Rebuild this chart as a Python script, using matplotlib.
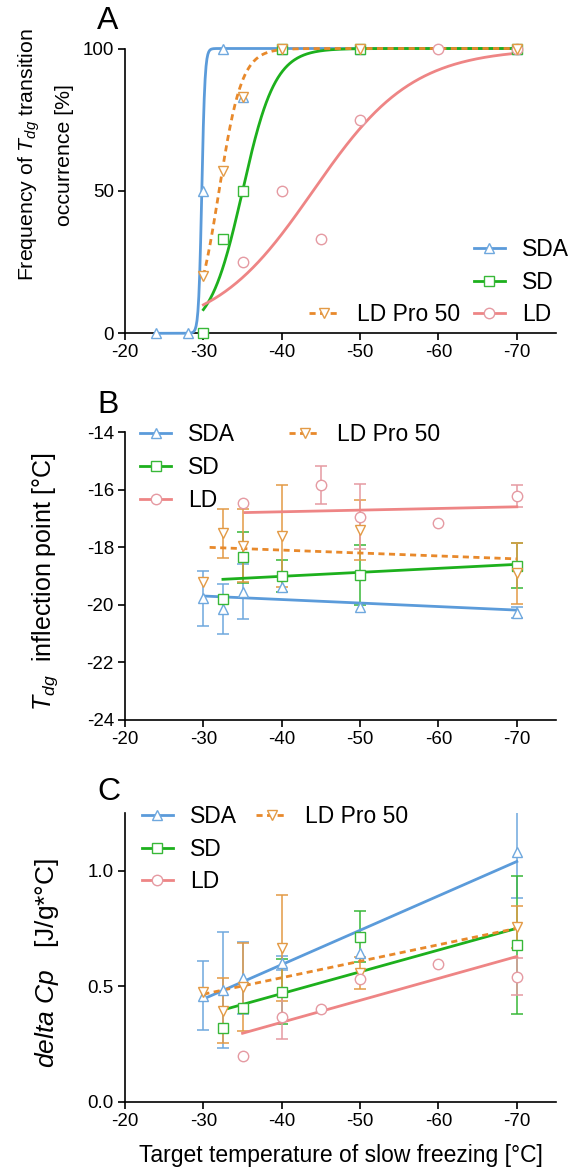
import numpy as np
import matplotlib
matplotlib.use("Agg")
import matplotlib.pyplot as plt
from matplotlib.lines import Line2D

plt.rcParams['font.family'] = ['Liberation Sans', 'DejaVu Sans']
plt.rcParams['mathtext.fontset'] = 'custom'
plt.rcParams['mathtext.rm'] = 'Liberation Sans'
plt.rcParams['mathtext.it'] = 'Liberation Sans:italic'

# ---------------- data ----------------
series = ["SDA", "SD", "LD Pro 50", "LD"]

# Panel A: frequency of Tdg transition occurrence [%]
a_sda_x = [-24, -28, -30, -32.5, -35, -40, -50, -70]
a_sda_y = [0, 0, 50, 100, 83, 100, 100, 100]
a_sd_x = [-30, -32.5, -35, -40, -50, -70]
a_sd_y = [0, 33, 50, 100, 100, 100]
a_pro_x = [-30, -32.5, -35, -40, -50, -70]
a_pro_y = [20, 57, 83, 100, 100, 100]
a_ld_x = [-35, -40, -45, -50, -60, -70]
a_ld_y = [25, 50, 33, 75, 100, 100]
# fitted sigmoid curves: (start temperature, temperature at 50 %, steepness)
a_fit_start = [-24, -30, -30, -30]
a_fit_mid = [-29.8, -35.0, -32.0, -44.0]
a_fit_slope = [5.0, 0.48, 0.69, 0.157]

# Panel B: Tdg inflection point [°C]
b_sda_x = [-30, -32.5, -35, -40, -50, -70]
b_sda_y = [-19.77, -20.15, -19.54, -19.37, -20.08, -20.27]
b_sda_e = [0.95, 0.86, 0.95, 0, 0, 0.2]
b_sd_x = [-32.5, -35, -40, -50, -70]
b_sd_y = [-19.79, -18.35, -18.99, -18.96, -18.64]
b_sd_e = [0, 0.9, 0.55, 1.05, 0.78]
b_pro_x = [-30, -32.5, -35, -40, -50, -70]
b_pro_y = [-19.19, -17.51, -17.95, -17.6, -17.4, -18.9]
b_pro_e = [0, 0.85, 1.27, 1.78, 1.03, 1.06]
b_ld_x = [-35, -45, -50, -60, -70]
b_ld_y = [-16.47, -15.83, -16.93, -17.16, -16.21]
b_ld_e = [0, 0.66, 1.12, 0, 0.38]
# linear fits (x0, y0, x1, y1)
b_fit_x0 = [-30, -32.5, -30.8, -35.3]
b_fit_y0 = [-19.69, -19.11, -18.0, -16.79]
b_fit_x1 = [-70, -70, -70, -70]
b_fit_y1 = [-20.18, -18.59, -18.40, -16.59]

# Panel C: delta Cp [J/g*°C]
c_sda_x = [-30, -32.5, -35, -40, -50, -70]
c_sda_y = [0.458, 0.483, 0.534, 0.599, 0.642, 1.082]
c_sda_e = [0.15, 0.25, 0.156, 0.03, 0, 0.2]
c_sd_x = [-32.5, -35, -40, -50, -70]
c_sd_y = [0.32, 0.404, 0.476, 0.714, 0.678]
c_sd_e = [0, 0, 0.14, 0.11, 0.3]
c_pro_x = [-30, -32.5, -35, -40, -50, -70]
c_pro_y = [0.476, 0.393, 0.495, 0.664, 0.558, 0.755]
c_pro_e = [0, 0.14, 0.19, 0.23, 0.07, 0.09]
c_ld_x = [-35, -40, -45, -50, -60, -70]
c_ld_y = [0.199, 0.365, 0.401, 0.53, 0.596, 0.541]
c_ld_e = [0, 0.095, 0, 0, 0, 0.08]
c_fit_x0 = [-30.4, -32.5, -30, -35]
c_fit_y0 = [0.45, 0.397, 0.465, 0.296]
c_fit_x1 = [-70, -70, -70, -70]
c_fit_y1 = [1.039, 0.75, 0.75, 0.628]

x_ticks = [-20, -30, -40, -50, -60, -70]

# ---------------- styles ----------------
line_col = ['#5B9BDA', '#1DB01D', '#E8892B', '#EE8585']
mark_col = ['#6FA8DE', '#38B838', '#E39A45', '#E59AA2']
markers = ['^', 's', 'v', 'o']
lstyle = ['-', '-', (0, (2.2, 1.6)), '-']
MS = 7.5
LW = 2.0
LEG_FS = 16.5

fig = plt.figure(figsize=(5.69, 11.70), dpi=100)
W, H = 569, 1170


def make_ax(top_px, bot_px):
    return fig.add_axes([125 / W, 1 - bot_px / H, 431 / W, (bot_px - top_px) / H])


def style_ax(ax):
    for s in ['top', 'right']:
        ax.spines[s].set_visible(False)
    for s in ['left', 'bottom']:
        ax.spines[s].set_linewidth(1.2)
    ax.tick_params(direction='out', length=5, width=1.2, labelsize=13.5, pad=3)
    ax.set_xlim(-20, -75)
    ax.set_xticks(x_ticks)
    ax.set_xticklabels([str(t) for t in x_ticks])


def legend_handles():
    return [Line2D([], [], color=line_col[i], linestyle=lstyle[i], lw=LW,
                   marker=markers[i], markersize=MS, markerfacecolor='white',
                   markeredgecolor=mark_col[i], markeredgewidth=1.0)
            for i in range(4)]


def blank():
    return Line2D([], [], alpha=0)


def draw_points(ax, xs, ys, i, errs=None):
    if errs is not None:
        ex = [x for x, e in zip(xs, errs) if e > 0]
        ey = [y for y, e in zip(ys, errs) if e > 0]
        ee = [e for e in errs if e > 0]
        if ex:
            ax.errorbar(ex, ey, yerr=ee, fmt='none', ecolor=mark_col[i],
                        elinewidth=1.1, capsize=4, capthick=1.1, zorder=2)
    ax.plot(xs, ys, linestyle='none', marker=markers[i], markersize=MS,
            markerfacecolor='white', markeredgecolor=mark_col[i],
            markeredgewidth=1.0, zorder=4, clip_on=False)


leg_kw = dict(frameon=False, fontsize=LEG_FS, handlelength=1.35, handletextpad=0.75,
              labelspacing=0.42, borderpad=0.0, borderaxespad=0.0)

# ---------------- Panel A ----------------
axA = make_ax(48.5, 333.3)
style_ax(axA)
axA.set_ylim(0, 100)
axA.set_yticks([0, 50, 100])
axA.set_yticklabels(['0', '50', '100'])
A_pts = [(a_sda_x, a_sda_y), (a_sd_x, a_sd_y), (a_pro_x, a_pro_y), (a_ld_x, a_ld_y)]
for i in range(4):
    t = np.linspace(a_fit_start[i], -70, 400)
    yv = 100.0 / (1.0 + np.exp((t - a_fit_mid[i]) * a_fit_slope[i]))
    axA.plot(t, yv, color=line_col[i], linestyle=lstyle[i], lw=LW, zorder=3, clip_on=False)
for i in [0, 1, 3, 2]:
    draw_points(axA, A_pts[i][0], A_pts[i][1], i)
axA.set_ylabel('Frequency of $\\mathit{T_{dg}}$ transition\noccurrence [%]', fontsize=15.3,
               linespacing=1.9)
axA.yaxis.set_label_coords(-0.118, 0.626)
h = legend_handles()
axA.legend([blank(), blank(), h[2], h[0], h[1], h[3]], ['', '', 'LD Pro 50', 'SDA', 'SD', 'LD'],
           ncol=2, loc='lower right', bbox_to_anchor=(1.03, 0.025), columnspacing=0.6, **leg_kw)

# ---------------- Panel B ----------------
axB = make_ax(432.3, 720.0)
style_ax(axB)
axB.set_ylim(-24, -14)
axB.set_yticks([-24, -22, -20, -18, -16, -14])
axB.set_yticklabels(['-24', '-22', '-20', '-18', '-16', '-14'])
B_pts = [(b_sda_x, b_sda_y, b_sda_e), (b_sd_x, b_sd_y, b_sd_e),
         (b_pro_x, b_pro_y, b_pro_e), (b_ld_x, b_ld_y, b_ld_e)]
for i in range(4):
    axB.plot([b_fit_x0[i], b_fit_x1[i]], [b_fit_y0[i], b_fit_y1[i]], color=line_col[i],
             linestyle=lstyle[i], lw=LW, zorder=3)
    draw_points(axB, *B_pts[i][:2], i, B_pts[i][2])
axB.set_ylabel('$\\mathit{T_{dg}}$  inflection point [°C]', fontsize=18)
axB.yaxis.set_label_coords(-0.15, 0.48)
h = legend_handles()
axB.legend([h[0], h[1], h[3], h[2], blank(), blank()], ['SDA', 'SD', 'LD', 'LD Pro 50', '', ''],
           ncol=2, loc='upper left', bbox_to_anchor=(0.035, 1.031), columnspacing=2.35, **leg_kw)

# ---------------- Panel C ----------------
axC = make_ax(812.7, 1101.7)
style_ax(axC)
axC.set_ylim(0, 1.25)
axC.set_yticks([0.0, 0.5, 1.0])
axC.set_yticklabels(['0.0', '0.5', '1.0'])
C_pts = [(c_sda_x, c_sda_y, c_sda_e), (c_sd_x, c_sd_y, c_sd_e),
         (c_pro_x, c_pro_y, c_pro_e), (c_ld_x, c_ld_y, c_ld_e)]
for i in range(4):
    axC.plot([c_fit_x0[i], c_fit_x1[i]], [c_fit_y0[i], c_fit_y1[i]], color=line_col[i],
             linestyle=lstyle[i], lw=LW, zorder=3)
    draw_points(axC, *C_pts[i][:2], i, C_pts[i][2])
axC.set_ylabel('$\\mathit{delta\\ Cp}$   [J/g*°C]', fontsize=19)
axC.yaxis.set_label_coords(-0.148, 0.48)
axC.set_xlabel('Target temperature of slow freezing [°C]', fontsize=16.5, labelpad=10)
h = legend_handles()
axC.legend([h[0], h[1], h[3], h[2], blank(), blank()], ['SDA', 'SD', 'LD', 'LD Pro 50', '', ''],
           ncol=2, loc='upper left', bbox_to_anchor=(0.039, 1.026), columnspacing=0.85, **leg_kw)

# panel letters
for lab, ypx in [('A', 21), ('B', 405), ('C', 792)]:
    fig.text(97 / W, 1 - ypx / H, lab, fontsize=23, ha='left', va='center')

fig.savefig('out.png', dpi=100)
